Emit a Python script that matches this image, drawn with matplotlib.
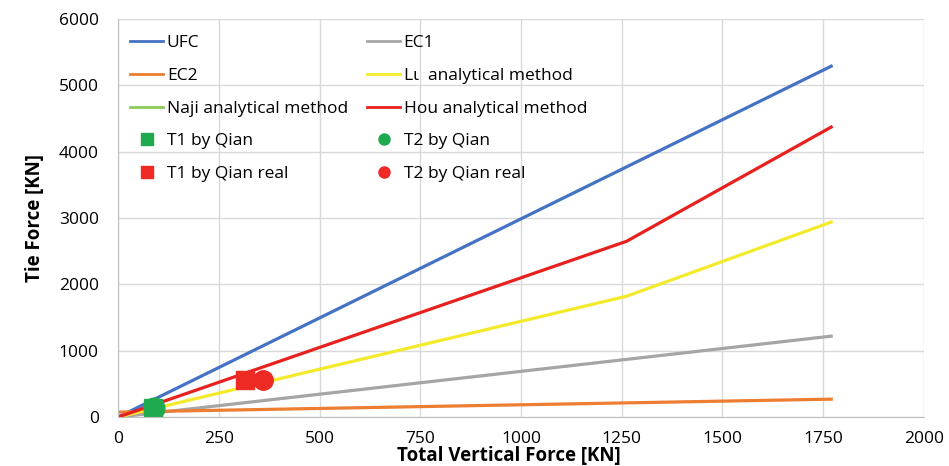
import matplotlib
matplotlib.use("Agg")
import matplotlib.pyplot as plt
from matplotlib.lines import Line2D

# Data
ufc_x = [0, 1770]
ufc_y = [0, 5290]
ec1_x = [0, 1770]
ec1_y = [0, 1220]
ec2_x = [0, 1770]
ec2_y = [75, 270]
lu_x = [0, 1262, 1770]
lu_y = [0, 1822, 2940]
naji_x = []
naji_y = []
hou_x = [0, 1262, 1770]
hou_y = [0, 2650, 4372]
t1_qian = (86, 132)
t2_qian = (88, 132)
t1_real = (314, 552)
t2_real = (359, 555)

xticks = [0, 250, 500, 750, 1000, 1250, 1500, 1750, 2000]
yticks = [0, 1000, 2000, 3000, 4000, 5000, 6000]

plt.rcParams['font.family'] = ['Open Sans', 'DejaVu Sans']

fig = plt.figure(figsize=(9.49, 4.66), dpi=100)
ax = fig.add_axes([0.1245, 0.105, 0.849, 0.854])

lw = 2.3
l_ufc, = ax.plot(ufc_x, ufc_y, color='#4472C4', lw=lw, label='UFC')
l_ec1, = ax.plot(ec1_x, ec1_y, color='#A5A5A5', lw=lw, label='EC1')
l_ec2, = ax.plot(ec2_x, ec2_y, color='#ED7D31', lw=lw, label='EC2')
l_lu, = ax.plot(lu_x, lu_y, color='#F2EA2A', lw=lw, label='L\u03b9  analytical method')
l_naji, = ax.plot(naji_x, naji_y, color='#8CCB55', lw=lw, label='Naji analytical method')
l_hou, = ax.plot(hou_x, hou_y, color='#E8201E', lw=lw, label='Hou analytical method')
m_t1r, = ax.plot([t1_real[0]], [t1_real[1]], 's', color='#EE2A24', ms=13, ls='none', label='T1 by Qian real')
m_t2r, = ax.plot([t2_real[0]], [t2_real[1]], 'o', color='#EE2A24', ms=14, ls='none', label='T2 by Qian real')
m_t1, = ax.plot([t1_qian[0]], [t1_qian[1]], 's', color='#20AA50', ms=13, ls='none', label='T1 by Qian')
m_t2, = ax.plot([t2_qian[0]], [t2_qian[1]], 'o', color='#20AA50', ms=15, ls='none', label='T2 by Qian')

ax.set_xlim(0, 2000)
ax.set_ylim(0, 6000)
ax.set_xticks(xticks)
ax.set_yticks(yticks)
ax.tick_params(length=0, labelsize=12.5)
ax.tick_params(axis='y', pad=14)
ax.tick_params(axis='x', pad=10)
ax.grid(True, color='#D9D9D9', lw=1.0)
ax.set_axisbelow(True)
for s in ['top', 'right']:
    ax.spines[s].set_visible(False)
for s in ['left', 'bottom']:
    ax.spines[s].set_color('#BFBFBF')

ax.set_xlabel('Total Vertical Force [KN]', fontsize=13.5, fontweight='bold')
ax.set_ylabel('Tie Force [KN]', fontsize=13.5, fontweight='bold', labelpad=10)
ax.xaxis.set_label_coords(0.485, -0.072)

handles = [l_ufc, l_ec2, l_naji, m_t1, m_t1r, l_ec1, l_lu, l_hou, m_t2, m_t2r]
leg_handles = []
for h in handles:
    if h.get_linestyle() == 'None':
        leg_handles.append(Line2D([], [], marker=h.get_marker(), color=h.get_color(), ls='none', ms=8))
    else:
        leg_handles.append(Line2D([], [], color=h.get_color(), lw=2.0))
labels = [h.get_label() for h in handles]
ax.legend(leg_handles, labels, ncol=2, loc='upper left', bbox_to_anchor=(0.0, 0.99),
          frameon=False, fontsize=12.5, handlelength=1.9, handletextpad=0.2,
          columnspacing=1.1, labelspacing=0.95, borderaxespad=0.3)

fig.savefig('out.png', dpi=100)
